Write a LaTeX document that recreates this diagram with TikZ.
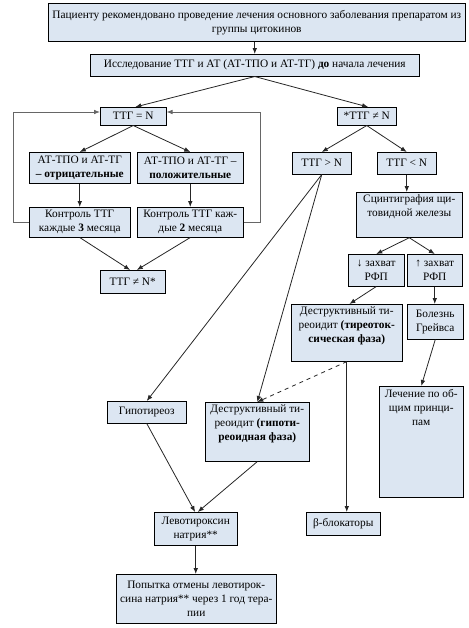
\documentclass[tikz,border=0pt]{standalone}
\usepackage{fontspec}
\setmainfont{Liberation Serif}
\usetikzlibrary{arrows.meta}
\definecolor{boxblue}{RGB}{220,230,242}
\def\px{0.75pt}

\begin{document}
\begin{tikzpicture}
[
  x=0.75pt, y=-0.75pt,
  every node/.style={draw=black, fill=boxblue, inner sep=2pt, align=center, anchor=north west, font=\fontsize{8.5}{10.5}\selectfont},
  wh/.style 2 args={minimum width=#1*\px, minimum height=#2*\px},
  link/.style={draw=black!85, line width=0.6pt, -{Latex[length=4.5pt,width=3.5pt]}},
  back/.style={link, draw=black!60}
]
\useasboundingbox (0,0) rectangle (468,628);

% start and first test
\node[wh={417}{38}] (start) at (48,3) {Пациенту рекомендовано проведение лечения основного заболевания препаратом из\\группы цитокинов};
\node[wh={329}{22}] (study) at (90,54) {Исследование ТТГ и АТ (АТ-ТПО и АТ-ТГ) \textbf{до} начала лечения};

% left branch
\node[wh={66}{18}] (norm) at (100,107) {ТТГ = N};
\node[wh={101}{31}] (neg) at (29,152) {АТ-ТПО и АТ-ТГ\\\textbf{– отрицательные}};
\node[wh={106}{31}] (pos) at (137,152) {АТ-ТПО и АТ-ТГ –\\\textbf{положительные}};
\node[wh={101}{30}] (ctrl3) at (29,207) {Контроль ТТГ\\каждые \textbf{3} месяца};
\node[wh={106}{30}] (ctrl2) at (137,207) {Контроль ТТГ каж-\\дые \textbf{2} месяца};
\node[wh={65}{23}] (abnstar) at (100,270) {ТТГ ≠ N*};
\coordinate (lcorner) at (13,112);
\coordinate (rcorner) at (260,112);

% right branch
\node[wh={59}{18}] (abn) at (337,107) {*ТТГ ≠ N};
\node[wh={59}{22}] (high) at (292,152) {ТТГ > N};
\node[wh={59}{22}] (low) at (377,152) {ТТГ < N};
\node[minimum width=106*\px, text depth=13.5pt] (scint) at (356,192) {Сцинтиграфия щи-\\товидной железы};
\node[wh={56}{32}] (updown) at (348,254) {↓ захват\\РФП};
\node[wh={55}{32}] (upup) at (407,254) {↑ захват\\РФП};
\node[minimum width=111*\px, text depth=12pt] (thyrotox) at (291,304) {Деструктивный ти-\\реоидит \textbf{(тиреоток-}\\\textbf{сическая фаза)}};
\node[wh={56}{35}] (graves) at (407,304) {Болезнь\\Грейвса};
\node[minimum width=84*\px, text depth=52pt] (general) at (379,386) {Лечение по об-\\щим принци-\\пам};

% bottom
\node[wh={79}{22}] (hypo) at (107,401) {Гипотиреоз};
\node[minimum width=104*\px, text depth=13.5pt] (hypophase) at (205,402) {Деструктивный ти-\\реоидит \textbf{(гипоти-}\\\textbf{реоидная фаза)}};
\node[wh={83}{33}] (levo) at (154,512) {Левотироксин\\натрия**};
\node[wh={74}{23}] (beta) at (306,512) {β-блокаторы};
\node[wh={160}{49}] (trial) at (116,574) {Попытка отмены левотирок-\\сина натрия** через 1 год тера-\\пии};

\draw[link] (start.south -| study.north) -- (study.north);
\draw[link] (study.south) -- ([xshift=1.5pt]norm.north);
\draw[link] (study.south) -- ([xshift=1pt]abn.north);
\draw[link] (norm.south) -- (neg.north);
\draw[link] (norm.south) -- (pos.north);
\draw[link] (neg) -- (ctrl3);
\draw[link] (pos) -- (ctrl2);
\draw[link] (ctrl3.south) -- ([xshift=-2pt]abnstar.north);
\draw[link] (ctrl2.south) -- ([xshift=3pt]abnstar.north);
\draw[back] (ctrl3.west) -| (lcorner) -- (lcorner -| norm.west);
\draw[back] (ctrl2.east) -| (rcorner) -- (rcorner -| norm.east);

\draw[link] (abn.south) -- (high.north);
\draw[link] (abn.south) -- (low.north);
\draw[link] (low.south) -- (low.south |- scint.north);
\draw[link] (scint.south) -- (updown.north);
\draw[link] (scint.south) -- (upup.north);
\draw[link] (updown.south) -- ([xshift=2pt]thyrotox.north);
\draw[link] (upup.south) -- (upup.south |- graves.north);
\draw[link] (graves.south) -- (general.north);
\draw[link] (high.south) -- (hypo.north);
\draw[link] (high.south) -- (hypophase.north);
\draw[link, dashed] (thyrotox.south) -- (hypophase.north);
\draw[link] (thyrotox.south) -- (thyrotox.south |- beta.north);

\draw[link] (hypo.south) -- ([xshift=-0.5pt]levo.north);
\draw[link] (hypophase.south) -- ([xshift=1.5pt]levo.north);
\draw[link] (levo.south) -- (levo.south |- trial.north);
\end{tikzpicture}
\end{document}
